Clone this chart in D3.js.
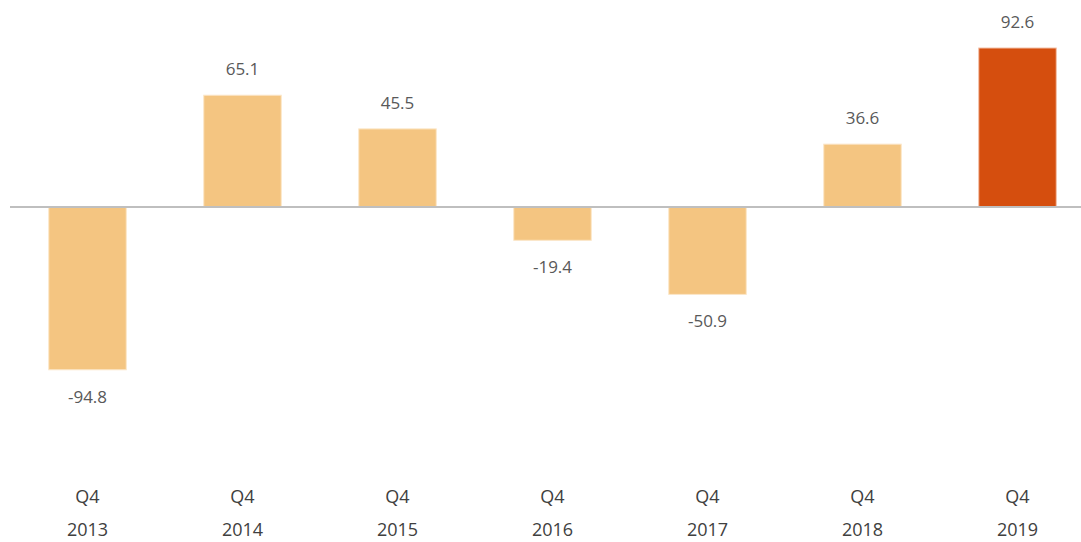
<!DOCTYPE html>
<meta charset="utf-8">
<style>
  body { margin: 0; background: #fff; }
  .val { font: 17px "Open Sans", sans-serif; fill: #595959; }
  .cat { font: 18px "Open Sans", sans-serif; fill: #404040; }
</style>
<body>
<script src="https://cdnjs.cloudflare.com/ajax/libs/d3/7.8.5/d3.min.js"></script>
<script>
// Year-end quarter values
const quarters = ['Q4', 'Q4', 'Q4', 'Q4', 'Q4', 'Q4', 'Q4'];
const years = ['2013', '2014', '2015', '2016', '2017', '2018', '2019'];
const values = [-94.8, 65.1, 45.5, -19.4, -50.9, 36.6, 92.6];
const highlight = '2019';

const width = 1081, height = 542;
const svg = d3.select('body').append('svg')
    .attr('width', width)
    .attr('height', height);

const x = d3.scaleBand()
    .domain(years)
    .range([10, 1095])
    .paddingInner(0.5)
    .paddingOuter(0.25);

const y = d3.scaleLinear()
    .domain([-100, 100])
    .range([378.7, 35.3]);

const data = years.map((yr, i) => ({ yr, q: quarters[i], v: values[i] }));

// bars
svg.selectAll('.bar')
  .data(data)
  .enter()
  .append('rect')
    .attr('class', 'bar')
    .attr('x', d => x(d.yr))
    .attr('width', x.bandwidth())
    .attr('y', d => y(Math.max(0, d.v)))
    .attr('height', d => Math.abs(y(d.v) - y(0)))
    .attr('fill', d => d.yr === highlight ? '#d54e0e' : '#f4c581')
    .attr('stroke', d => d.yr === highlight ? '#f3c0a6' : '#fbe6c8')
    .attr('stroke-width', 1);

// zero line
svg.append('line')
    .attr('x1', 10).attr('x2', width)
    .attr('y1', y(0)).attr('y2', y(0))
    .attr('stroke', '#bfbfbf')
    .attr('stroke-width', 2);

// value labels
svg.selectAll('.val')
  .data(data)
  .enter()
  .append('text')
    .attr('class', 'val')
    .attr('x', d => x(d.yr) + x.bandwidth() / 2)
    .attr('y', d => d.v >= 0 ? y(d.v) - 20 : y(d.v) + 33)
    .attr('text-anchor', 'middle')
    .text(d => d.v.toFixed(1));

// category labels
const cat = svg.selectAll('.cat')
  .data(data)
  .enter()
  .append('text')
    .attr('class', 'cat')
    .attr('text-anchor', 'middle')
    .attr('x', d => x(d.yr) + x.bandwidth() / 2);

cat.append('tspan')
    .attr('x', d => x(d.yr) + x.bandwidth() / 2)
    .attr('y', 503)
    .text(d => d.q);
cat.append('tspan')
    .attr('x', d => x(d.yr) + x.bandwidth() / 2)
    .attr('y', 536)
    .text(d => d.yr);
</script>
</body>
